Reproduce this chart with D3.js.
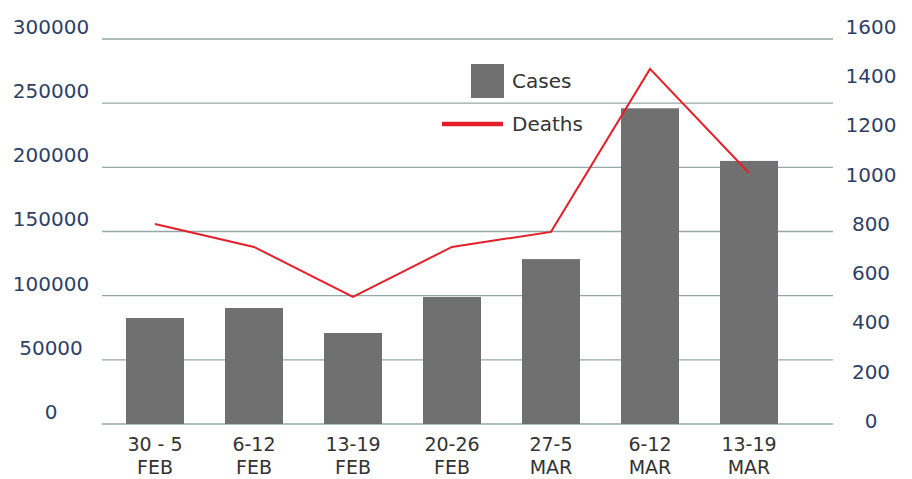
<!DOCTYPE html>
<meta charset="utf-8">
<script src="https://d3js.org/d3.v7.min.js"></script>
<style>
  body { margin: 0; background: #fff; }
  text { font-family: "DejaVu Sans", sans-serif; }
</style>
<div id="chart"></div>
<script>
// weekly periods
var weeks = ["30 - 5", "6-12", "13-19", "20-26", "27-5", "6-12", "13-19"];
var months = ["FEB", "FEB", "FEB", "FEB", "MAR", "MAR", "MAR"];
var cases = [82600, 90400, 70900, 99000, 128500, 246000, 205000];
var deaths = [800, 707, 504, 707, 768, 1430, 1007];
var leftTicks = [0, 50000, 100000, 150000, 200000, 250000, 300000];
var rightTicks = [0, 200, 400, 600, 800, 1000, 1200, 1400, 1600];

var width = 912, height = 479;

var svg = d3.select("#chart").append("svg")
    .attr("width", width)
    .attr("height", height);

var keys = weeks.map(function(d, i) { return i; });

// x scale
var x = d3.scaleBand()
    .domain(keys)
    .range([85, 819])
    .padding(0.414);

// left scale (cases)
var y = d3.scaleLinear()
    .domain([0, 300000])
    .range([424, 39]);

// right scale (deaths)
var y2 = d3.scaleLinear()
    .domain([0, 1600])
    .range([421, 27]);

// gridlines
svg.append("g")
  .selectAll("line")
  .data(leftTicks)
  .enter().append("line")
    .attr("x1", 102)
    .attr("x2", 833)
    .attr("y1", function(d) { return y(d); })
    .attr("y2", function(d) { return y(d); })
    .style("stroke", "#93a7a8")
    .style("stroke-width", 1.3);

// left axis labels
var gl = svg.append("g")
    .attr("transform", "translate(51,-12)")
    .call(d3.axisLeft(y).tickValues(leftTicks).tickFormat(d3.format("d")).tickSize(0).tickPadding(0));
gl.select(".domain").remove();
gl.selectAll("text")
    .attr("text-anchor", "middle")
    .attr("x", 0)
    .style("font-family", "DejaVu Sans")
    .style("font-size", "20px")
    .style("fill", "#2e3f66");

// right axis labels
var gr = svg.append("g")
    .attr("transform", "translate(871,0)")
    .call(d3.axisRight(y2).tickValues(rightTicks).tickFormat(d3.format("d")).tickSize(0).tickPadding(0));
gr.select(".domain").remove();
gr.selectAll("text")
    .attr("text-anchor", "middle")
    .attr("x", 0)
    .style("font-family", "DejaVu Sans")
    .style("font-size", "20px")
    .style("fill", "#2e3f66");

// bars
svg.selectAll(".bar")
  .data(cases)
  .enter().append("rect")
    .attr("class", "bar")
    .attr("x", function(d, i) { return x(i); })
    .attr("width", x.bandwidth())
    .attr("y", function(d) { return y(d); })
    .attr("height", function(d) { return y(0) - y(d); })
    .style("fill", "#707070");

// deaths line
svg.append("path")
    .datum(deaths)
    .attr("d", d3.line()
      .x(function(d, i) { return x(i) + x.bandwidth() / 2; })
      .y(function(d) { return y2(d); }))
    .style("fill", "none")
    .style("stroke", "#e3202a")
    .style("stroke-width", 2);

// category labels
var cat = svg.append("g")
  .selectAll("text")
  .data(keys)
  .enter().append("text")
    .attr("text-anchor", "middle")
    .style("font-size", "19px")
    .style("fill", "#333333");
cat.append("tspan")
    .attr("x", function(d) { return x(d) + x.bandwidth() / 2; })
    .attr("y", 451)
    .text(function(d) { return weeks[d]; });
cat.append("tspan")
    .attr("x", function(d) { return x(d) + x.bandwidth() / 2; })
    .attr("y", 474)
    .text(function(d) { return months[d]; });

// legend
var legend = svg.append("g");
legend.append("rect")
    .attr("x", 471)
    .attr("y", 64)
    .attr("width", 33)
    .attr("height", 34)
    .style("fill", "#707070");
legend.append("text")
    .attr("x", 512)
    .attr("y", 81)
    .attr("dy", "0.35em")
    .style("font-size", "20px")
    .style("fill", "#333333")
    .text("Cases");
legend.append("line")
    .attr("x1", 442)
    .attr("x2", 503)
    .attr("y1", 124)
    .attr("y2", 124)
    .style("stroke", "#e3202a")
    .style("stroke-width", 4.5);
legend.append("text")
    .attr("x", 512)
    .attr("y", 124)
    .attr("dy", "0.35em")
    .style("font-size", "20px")
    .style("fill", "#333333")
    .text("Deaths");
</script>
